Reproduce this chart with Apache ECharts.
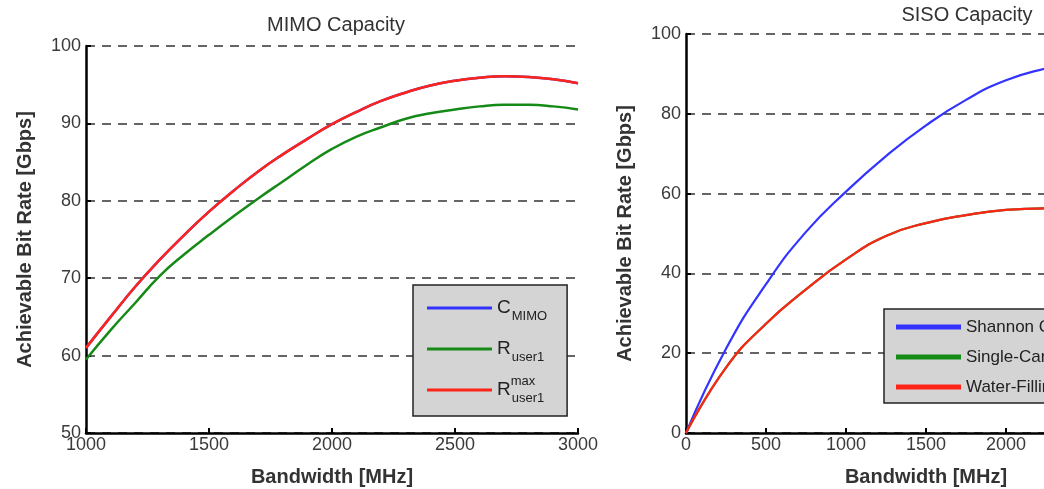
<!DOCTYPE html>
<html>
<head>
<meta charset="utf-8">
<script src="https://cdn.jsdelivr.net/npm/echarts@6/dist/echarts.min.js"></script>
<style>
  html, body { margin: 0; padding: 0; background: #fff; }
  #chart { width: 1044px; height: 489px; }
</style>
</head>
<body>
<div id="chart"></div>
<script>
// MIMO panel (left)
const mimoBandwidth = [1000, 1100, 1200, 1300, 1400, 1500, 1600, 1700, 1800, 1900, 2000,
  2100, 2200, 2300, 2400, 2500, 2600, 2700, 2800, 2900, 3000]
const cMimo = [61.0, 65.0, 68.9, 72.4, 75.6, 78.6, 81.3, 83.8, 86.0, 88.0, 89.9,
  91.5, 92.9, 94.0, 94.9, 95.5, 95.9, 96.1, 96.0, 95.7, 95.2]
const rUser1 = [59.5, 63.3, 66.8, 70.3, 73.1, 75.6, 78.0, 80.3, 82.5, 84.7, 86.7,
  88.3, 89.5, 90.6, 91.3, 91.8, 92.2, 92.4, 92.4, 92.2, 91.8]
const rMaxUser1 = [61.0, 65.0, 68.9, 72.4, 75.6, 78.6, 81.3, 83.8, 86.0, 88.0, 89.9,
  91.5, 92.9, 94.0, 94.9, 95.5, 95.9, 96.1, 96.0, 95.7, 95.2]

// SISO panel (right, cut off at the image edge)
const sisoBandwidth = [0, 250, 500, 750, 1000, 1250, 1500, 1750, 2000, 2250, 2500]
const shannon = [0, 21.1, 37.3, 50.4, 60.5, 69.4, 77.1, 83.5, 88.4, 91.4, 93.6]
const singleCarrier = [0, 16.4, 27.4, 36.0, 43.5, 49.4, 52.6, 54.6, 55.9, 56.3, 56.2]
const waterFilling = [0, 16.4, 27.4, 36.0, 43.5, 49.4, 52.6, 54.6, 55.9, 56.3, 56.2]

const font = 'Liberation Sans, Arial, sans-serif'
const blue = '#3333ff'
const green = '#168a16'
const red = '#ff2418'

function pairs(xs, ys) {
  return xs.map((x, i) => [x, ys[i]])
}

function valueAxis(idx, min, max, interval, name, gap, isX) {
  return {
    type: 'value',
    gridIndex: idx,
    min: min,
    max: max,
    interval: interval,
    name: name,
    nameLocation: 'middle',
    nameGap: gap,
    nameTextStyle: {color: '#333', fontSize: 20, fontWeight: 'bold', fontFamily: font},
    axisLine: {show: true, lineStyle: {color: '#000', width: 2.5}},
    axisTick: {show: true, inside: true, length: 5, lineStyle: {color: '#000', width: 2}},
    axisLabel: {
      color: '#3a3a3a', fontSize: 18, fontFamily: font, margin: isX ? 3 : 5,
      formatter: function (v) { return String(v) }
    },
    splitLine: isX ? {show: false} : {
      show: true,
      lineStyle: {color: '#333', width: 1.5, type: [9, 7]}
    }
  }
}

function curve(name, gridIdx, xs, ys, color, width) {
  return {
    name: name,
    type: 'line',
    xAxisIndex: gridIdx,
    yAxisIndex: gridIdx,
    data: pairs(xs, ys),
    smooth: true,
    showSymbol: false,
    symbol: 'none',
    color: color,
    lineStyle: {width: width}
  }
}

// every label gets a (possibly blank) superscript so the rows share one height
const mimoLabels = {
  'C MIMO': '{m|C}{p| }{s|MIMO}',
  'R user1': '{m|R}{p| }{s|user1}',
  'R max user1': '{m|R}{p|max}{s|user1}'
}

const chart = echarts.init(document.getElementById('chart'))

const option = {
  animation: false,
  backgroundColor: '#fff',
  title: [
    {text: 'MIMO Capacity', left: 331, top: 10, textAlign: 'center',
      textStyle: {fontSize: 20, fontWeight: 'normal', color: '#333', fontFamily: font}},
    {text: 'SISO Capacity', left: 962, top: 0, textAlign: 'center',
      textStyle: {fontSize: 20, fontWeight: 'normal', color: '#333', fontFamily: font}}
  ],
  grid: [
    {left: 86, top: 46, width: 492, height: 387, outerBoundsMode: 'none'},
    {left: 686, top: 34, width: 480, height: 399, outerBoundsMode: 'none'}
  ],
  xAxis: [
    valueAxis(0, 1000, 3000, 500, 'Bandwidth [MHz]', 34, true),
    valueAxis(1, 0, 3000, 500, 'Bandwidth [MHz]', 34, true)
  ],
  yAxis: [
    valueAxis(0, 50, 100, 10, 'Achievable Bit Rate [Gbps]', 51, false),
    valueAxis(1, 0, 100, 20, 'Achievable Bit Rate [Gbps]', 51, false)
  ],
  legend: [
    {
      data: ['C MIMO', 'R user1', 'R max user1'],
      orient: 'vertical',
      left: 413,
      top: 285,
      itemWidth: 65,
      itemHeight: 3,
      itemGap: 11,
      padding: [8, 20, 11, 14],
      backgroundColor: '#d4d4d4',
      borderColor: '#222',
      borderWidth: 1.5,
      borderRadius: 0,
      icon: 'rect',
      formatter: function (name) {
        return mimoLabels[name]
      },
      textStyle: {
        fontFamily: font,
        color: '#222',
        rich: {
          m: {fontSize: 19, fontFamily: font, color: '#222', lineHeight: 30, verticalAlign: 'middle'},
          s: {fontSize: 13, fontFamily: font, color: '#222', lineHeight: 30, verticalAlign: 'bottom'},
          p: {fontSize: 13, fontFamily: font, color: '#222', lineHeight: 30, verticalAlign: 'top', width: 1}
        }
      }
    },
    {
      data: ['Shannon Capacity', 'Single-Carrier', 'Water-Filling'],
      orient: 'vertical',
      left: 884,
      top: 309,
      itemWidth: 65,
      itemHeight: 5,
      itemGap: 10,
      padding: [8, 10, 6, 12],
      backgroundColor: '#d4d4d4',
      borderColor: '#222',
      borderWidth: 1.5,
      borderRadius: 0,
      icon: 'rect',
      textStyle: {fontSize: 17, lineHeight: 20, fontFamily: font, color: '#222'}
    }
  ],
  series: [
    curve('C MIMO', 0, mimoBandwidth, cMimo, blue, 2.5),
    curve('R user1', 0, mimoBandwidth, rUser1, green, 2.5),
    curve('R max user1', 0, mimoBandwidth, rMaxUser1, red, 2.5),
    curve('Shannon Capacity', 1, sisoBandwidth, shannon, blue, 2.2),
    curve('Single-Carrier', 1, sisoBandwidth, singleCarrier, green, 2.2),
    curve('Water-Filling', 1, sisoBandwidth, waterFilling, red, 2.2)
  ]
}

chart.setOption(option)
</script>
</body>
</html>
